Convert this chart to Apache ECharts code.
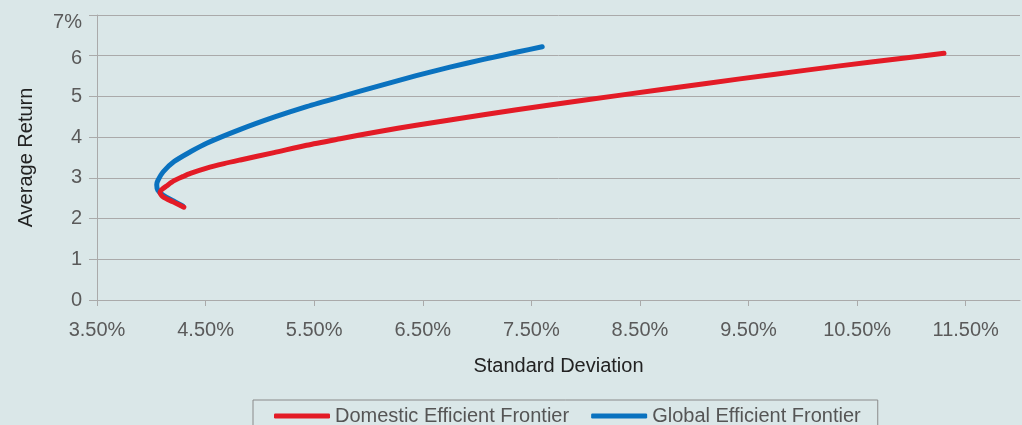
<!DOCTYPE html>
<html>
<head>
<meta charset="utf-8">
<title>Efficient Frontiers</title>
<script src="https://cdn.jsdelivr.net/npm/echarts@6/dist/echarts.min.js"></script>
<style>
  html, body { margin: 0; padding: 0; background: #dae7e8; }
  #chart { width: 1022px; height: 425px; }
</style>
</head>
<body>
<div id="chart"></div>
<script>
// Standard deviation (%) and average return (%) along each frontier
const domesticRisk   = [4.30, 4.20, 4.11, 4.08, 4.10, 4.14, 4.21, 4.29, 4.36, 4.51, 4.67, 4.82, 5.13, 5.43, 5.74, 6.10, 6.44, 7.06, 7.67, 8.29, 9.11, 9.73, 10.34, 10.96, 11.30];
const domesticReturn = [2.28, 2.41, 2.53, 2.64, 2.72, 2.80, 2.93, 3.03, 3.11, 3.24, 3.35, 3.44, 3.62, 3.80, 3.96, 4.14, 4.29, 4.55, 4.79, 5.02, 5.32, 5.54, 5.75, 5.95, 6.06];

const globalRisk   = [4.29, 4.20, 4.11, 4.06, 4.05, 4.06, 4.11, 4.21, 4.36, 4.51, 4.82, 5.13, 5.43, 5.74, 6.14, 6.44, 6.75, 7.06, 7.37, 7.60];
const globalReturn = [2.31, 2.44, 2.57, 2.70, 2.83, 2.93, 3.15, 3.40, 3.64, 3.85, 4.19, 4.49, 4.75, 4.99, 5.29, 5.51, 5.72, 5.91, 6.09, 6.22];

const seriesNames = ['Domestic Efficient Frontier', 'Global Efficient Frontier'];
const xAxisTitle = 'Standard Deviation';
const yAxisTitle = 'Average Return';

const pairs = (xs, ys) => xs.map((x, i) => [x, ys[i]]);

const FONT = "'Liberation Sans', Arial, sans-serif";
const GRID_GRAY = '#aaaaaa';
const TICK_TEXT = '#5a5a5a';

const chart = echarts.init(document.getElementById('chart'), null, { renderer: 'canvas' });

chart.setOption({
  backgroundColor: '#dae7e8',
  animation: false,
  textStyle: { fontFamily: FONT },
  grid: { left: 97, right: 2, top: 15, bottom: 125, containLabel: false },
  xAxis: {
    type: 'value',
    min: 3.5,
    max: 12,
    interval: 1,
    name: xAxisTitle,
    nameLocation: 'middle',
    nameGap: 56,
    nameTextStyle: { fontSize: 20, color: '#222', fontFamily: FONT },
    axisLine: { show: true, lineStyle: { color: GRID_GRAY, width: 1 } },
    axisTick: { show: true, length: 6, lineStyle: { color: GRID_GRAY } },
    splitLine: { show: false },
    axisLabel: {
      fontSize: 20,
      color: TICK_TEXT,
      margin: 20,
      showMaxLabel: false,
      formatter: v => v.toFixed(2) + '%'
    }
  },
  yAxis: {
    type: 'value',
    min: 0,
    max: 7,
    interval: 1,
    name: yAxisTitle,
    nameLocation: 'middle',
    nameGap: 61,
    nameTextStyle: { fontSize: 20, color: '#222', fontFamily: FONT },
    axisLine: { show: true, lineStyle: { color: GRID_GRAY, width: 1 } },
    axisTick: { show: true, length: 8, lineStyle: { color: GRID_GRAY } },
    splitLine: { show: true, lineStyle: { color: GRID_GRAY, width: 1 } },
    axisLabel: {
      fontSize: 20,
      color: TICK_TEXT,
      margin: 15,
      formatter: v => (v === 7 ? '{top|7%}' : v === 6 ? '{six|6}' : String(v)),
      rich: {
        top: { fontSize: 20, color: TICK_TEXT, fontFamily: FONT, padding: [14, 0, 0, 0] },
        six: { fontSize: 20, color: TICK_TEXT, fontFamily: FONT, padding: [6, 0, 0, 0] }
      }
    }
  },
  legend: {
    data: seriesNames,
    left: 253,
    top: 400,
    padding: [5, 17, 12, 21],
    itemGap: 22,
    itemWidth: 56,
    itemHeight: 5,
    icon: 'roundRect',
    borderColor: '#8a8a8a',
    borderWidth: 1,
    textStyle: { fontSize: 20, color: '#555', fontFamily: FONT, lineHeight: 22 }
  },
  series: [
    {
      name: seriesNames[1],
      type: 'line',
      data: pairs(globalRisk, globalReturn),
      smooth: 0.25,
      showSymbol: false,
      symbol: 'none',
      color: '#0a72bf',
      lineStyle: { width: 5, color: '#0a72bf', cap: 'round', join: 'round' },
      z: 2
    },
    {
      name: seriesNames[0],
      type: 'line',
      data: pairs(domesticRisk, domesticReturn),
      smooth: 0.25,
      showSymbol: false,
      symbol: 'none',
      color: '#e31b26',
      lineStyle: { width: 5, color: '#e31b26', cap: 'round', join: 'round' },
      z: 3
    }
  ]
});
</script>
</body>
</html>
